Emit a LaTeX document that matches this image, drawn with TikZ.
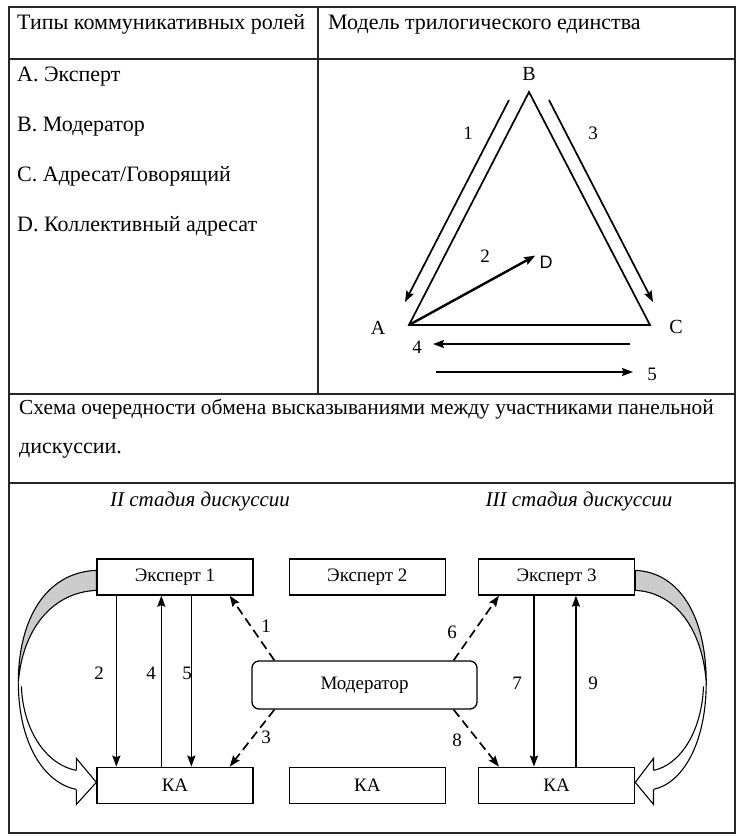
\documentclass[tikz,border=0pt]{standalone}
\usepackage{fontspec}
\setmainfont{Liberation Serif}
\newfontfamily\labelsans{Liberation Sans}
\usetikzlibrary{arrows.meta, positioning, shapes}
\tikzset {
  tabline/.style = {line width=1.2pt, color=black!85},
  cell/.style = {anchor=west, inner sep=0pt, text height=15pt, text depth=4pt, font=\fontsize{22}{26}\selectfont},
  box/.style = {draw, line width=1.3pt, rectangle, minimum width=156pt, minimum height=36pt, inner sep=0pt, font=\fontsize{19}{22}\selectfont},
  modbox/.style = {box, rounded corners=7pt, minimum width=225pt, minimum height=48pt},
  vertex/.style = {inner sep=0pt, font=\fontsize{20}{24}\selectfont},
  num/.style = {inner sep=0pt, font=\fontsize{19}{22}\selectfont},
  stage/.style = {inner sep=0pt, font=\itshape\fontsize{21}{25}\selectfont},
  line/.style = {->, line width=1.7pt, color=black, >={Stealth[length=11pt, width=8pt, inset=1.5pt]}},
  dline/.style = {line, dash pattern=on 9pt off 5pt},
  % big curved arrow, drawn from the top left corner of an expert box
  turnback/.pic = {
    \filldraw[line width=1.1pt, fill=gray!40] (0,12) .. controls (-50,14) and (-78,60) .. (-78,124)
      .. controls (-74,72) and (-45,34) .. (0,32) -- cycle;
    \draw[line width=1.1pt] (-78,124) .. controls (-78,185) and (-52,225) .. (-20,231);
    \draw[line width=1.1pt] (-75,128) .. controls (-73,175) and (-48,207) .. (-20,212);
    \filldraw[line width=1.1pt, fill=white] (-20,212) -- (-20,200) -- (0,224) -- (-20,246) -- (-20,231);
  }
}

\begin{document}
\begin{tikzpicture}[x=1pt, y=-1pt, line join=miter]
  \useasboundingbox (0,0) rectangle (741,836);

  % table
  \draw[tabline] (9,7) rectangle (735,833);
  \draw[tabline] (9,59) -- (735,59);
  \draw[tabline] (9,394) -- (735,394);
  \draw[tabline] (9,483) -- (735,483);
  \draw[tabline] (318,7) -- (318,394);

  \node[cell] (head1) at (17,24) {Типы коммуникативных ролей};
  \node[cell] (head2) at (328,24) {Модель трилогического единства};

  \node[cell] (roleA) at (17,76) {A. Эксперт};
  \node[cell, below=50pt of roleA.west, anchor=west] (roleB) {B. Модератор};
  \node[cell, below=50pt of roleB.west, anchor=west] (roleC) {C. Адресат/Говорящий};
  \node[cell, below=50pt of roleC.west, anchor=west] (roleD) {D. Коллективный адресат};

  % triangle
  \coordinate (va) at (409,325);
  \coordinate (vb) at (529,92);
  \coordinate (vc) at (650,325);
  \draw[line width=1.7pt] (va) -- (vb) -- (vc) -- cycle;
  \node[vertex] (labB) at (529,74) {B};
  \node[vertex] (labA) at (378,328) {A};
  \node[vertex] (labC) at (676,327) {C};
  \node[vertex, font=\labelsans\fontsize{18}{22}\selectfont] (labD) at (546,262) {D};
  \draw[line, line width=2.4pt] (va) -- ([xshift=-4pt]labD.north west);

  \coordinate (s1) at (509,100); \coordinate (t1) at (405,302);
  \coordinate (s3) at (549,100); \coordinate (t3) at (653,302);
  \coordinate (s4) at (630,344); \coordinate (t4) at (433,344);
  \coordinate (s5) at (436,372); \coordinate (t5) at (633,372);
  \draw[line] (s1) -- (t1);
  \draw[line] (s3) -- (t3);
  \draw[line] (s4) -- (t4);
  \draw[line] (s5) -- (t5);
  \node[num] (n1) at (468,133) {1};
  \node[num] (n2) at (485,256) {2};
  \node[num] (n3) at (593,133) {3};
  \node[num] (n4) at (417,347) {4};
  \node[num] (n5) at (652,374) {5};

  % exchange scheme
  \node[cell, font=\fontsize{21.4}{26}\selectfont] (scheme1) at (19,409) {Схема очередности обмена высказываниями между участниками панельной};
  \node[cell, below=39pt of scheme1.west, anchor=west] (scheme2) {дискуссии.};

  \node[stage] (st2) at (200,501) {II стадия дискуссии};
  \node[stage] (st3) at (579,501) {III стадия дискуссии};

  \node[box] (exp1) at (175,577) {Эксперт 1};
  \node[box, right=35pt of exp1] (exp2) {Эксперт 2};
  \node[box, right=32pt of exp2] (exp3) {Эксперт 3};
  \node[box, below=171pt of exp1] (ka1) {КА};
  \node[box, below=171pt of exp2] (ka2) {КА};
  \node[box, below=171pt of exp3] (ka3) {КА};
  \node[modbox] (mod) at (364.5,685) {Модератор};

  \draw[line] ([xshift=20pt]exp1.south west) -- ([xshift=20pt]ka1.north west);
  \draw[line] ([xshift=65pt]ka1.north west) -- ([xshift=65pt]exp1.south west);
  \draw[line] ([xshift=95pt]exp1.south west) -- ([xshift=95pt]ka1.north west);
  \draw[line] ([xshift=56pt]exp3.south west) -- ([xshift=56pt]ka3.north west);
  \draw[line] ([xshift=98pt]ka3.north west) -- ([xshift=98pt]exp3.south west);

  \draw[dline] ([xshift=23pt]mod.north west) -- ([xshift=-24pt]exp1.south east);
  \draw[dline] ([xshift=23pt]mod.south west) -- ([xshift=-24pt]ka1.north east);
  \draw[dline] ([xshift=-24pt]mod.north east) -- ([xshift=21pt]exp3.south west);
  \draw[dline] ([xshift=-24pt]mod.south east) -- ([xshift=21pt]ka3.north west);

  \node[num] (m1) at (266,626) {1};
  \node[num] (m2) at (99,673) {2};
  \node[num] (m3) at (266,737) {3};
  \node[num] (m4) at (151,673) {4};
  \node[num] (m5) at (187,673) {5};
  \node[num] (m6) at (452,632) {6};
  \node[num] (m7) at (517,683) {7};
  \node[num] (m8) at (457,740) {8};
  \node[num] (m9) at (593,683) {9};

  \pic at (exp1.north west) {turnback};
  \pic[xscale=-0.91] at (exp3.north east) {turnback};
\end{tikzpicture}
\end{document}
